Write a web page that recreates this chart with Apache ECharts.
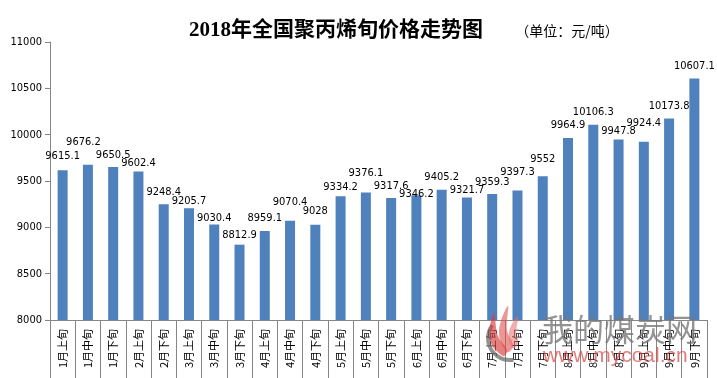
<!DOCTYPE html>
<html>
<head>
<meta charset="utf-8">
<script src="https://cdn.jsdelivr.net/npm/echarts@6/dist/echarts.min.js"></script>
<style>
html,body{margin:0;padding:0;background:#fff;}
#chart{width:717px;height:378px;}
</style>
</head>
<body>
<div id="chart"></div>
<script>
// ---- data ----
const categories = ['1月上旬','1月中旬','1月下旬','2月上旬','2月下旬','3月上旬','3月中旬','3月下旬','4月上旬','4月中旬','4月下旬','5月上旬','5月中旬','5月下旬','6月上旬','6月中旬','6月下旬','7月上旬','7月中旬','7月下旬','8月上旬','8月中旬','8月下旬','9月上旬','9月中旬','9月下旬'];
const prices = [9615.1,9676.2,9650.5,9602.4,9248.4,9205.7,9030.4,8812.9,8959.1,9070.4,9028,9334.2,9376.1,9317.6,9346.2,9405.2,9321.7,9359.3,9397.3,9552,9964.9,10106.3,9947.8,9924.4,10173.8,10607.1];
const yTicks = [8000,8500,9000,9500,10000,10500,11000];
const titleText = '2018年全国聚丙烯旬价格走势图';
const unitText = '（单位：元/吨）';

// ---- label placement tweaks (pixels from bar top to label centre, x nudge) ----
const labelRise = [14,23,12,8,12.6,7,6,10,13,19,13.7,9.6,19,12,1,13,7.5,12,18,17,13,13,8,19,12.6,12.4];
const labelShiftX = [0,-4.5,0,0,0,0,0,0,0,0,0,0,0,0,0,0,0,0,0,0,0,0,0,0,0,0];

const chart = echarts.init(document.getElementById('chart'));
const numFont = "'DejaVu Sans Condensed','Liberation Sans',sans-serif";

chart.setOption({
  animation: false,
  backgroundColor: '#ffffff',
  title: [{
    text: titleText,
    left: 331, top: 15, textAlign: 'center',
    textStyle: {fontFamily: "'Liberation Serif','Noto Sans CJK SC',serif", fontSize: 21, fontWeight: 'bold', color: '#000'}
  },{
    text: unitText,
    left: 562, top: 19, textAlign: 'center',
    textStyle: {fontFamily: "'Noto Sans CJK SC',sans-serif", fontSize: 14, fontWeight: 'normal', color: '#000'}
  }],
  grid: {left: 50, right: 10, top: 42, bottom: 58, containLabel: false},
  xAxis: {
    type: 'category',
    data: categories,
    boundaryGap: true,
    axisLine: {show: true, lineStyle: {color: '#868686', width: 1}},
    axisTick: {show: true, interval: 0, length: 60, lineStyle: {color: '#868686'}},
    axisLabel: {interval: 0, rotate: 90, margin: 9, fontSize: 11, color: '#000', fontFamily: "'Noto Sans CJK SC',sans-serif"}
  },
  yAxis: {
    type: 'value',
    min: yTicks[0], max: yTicks[yTicks.length-1], interval: 500,
    splitLine: {show: false},
    axisLine: {show: true, lineStyle: {color: '#868686'}},
    axisTick: {show: true, length: 5, lineStyle: {color: '#868686'}},
    axisLabel: {margin: 8, fontSize: 11, color: '#000', fontFamily: numFont, formatter: v => String(v)}
  },
  series: [{
    type: 'bar',
    barWidth: 10,
    itemStyle: {color: '#4F81BD'},
    label: {show: true, position: 'top', distance: 0, fontSize: 11, lineHeight: 12, color: '#000', fontFamily: numFont, formatter: p => String(p.value)},
    data: prices.map((v, i) => ({
      value: v,
      label: {offset: [labelShiftX[i], -(labelRise[i] - 6)]}
    })),
    z: 2
  }],
  graphic: [
    {type: 'arc', z: 100, shape: {cx: 510, cy: 338, r: 22, startAngle: Math.PI*0.45, endAngle: Math.PI*1.2},
     style: {stroke: 'rgba(110,110,110,0.75)', lineWidth: 4, fill: null}},
    {type: 'polygon', z: 101, shape: {smooth: 0.4, points: [[503,356],[490,340],[494,313],[498,336],[507,350]]},
     style: {fill: 'rgba(215,60,60,0.65)'}},
    {type: 'polygon', z: 101, shape: {smooth: 0.4, points: [[507,352],[499,332],[508,306],[507,330],[513,346]]},
     style: {fill: 'rgba(225,80,80,0.6)'}},
    {type: 'polygon', z: 101, shape: {smooth: 0.4, points: [[512,348],[509,332],[518,316],[516,334],[518,344]]},
     style: {fill: 'rgba(230,110,110,0.55)'}},
    {type: 'text', z: 100, left: 542, top: 314,
     style: {text: '我的煤炭网', fontSize: 31, fontFamily: "'Noto Sans CJK SC',sans-serif", fill: 'rgba(120,120,120,0.8)'}},
    {type: 'text', z: 100, left: 543, top: 346,
     style: {text: 'www.mycoal.cn', fontSize: 21, fontFamily: "'Liberation Sans',sans-serif", fill: 'rgba(220,80,80,0.75)'}}
  ]
});
</script>
</body>
</html>
